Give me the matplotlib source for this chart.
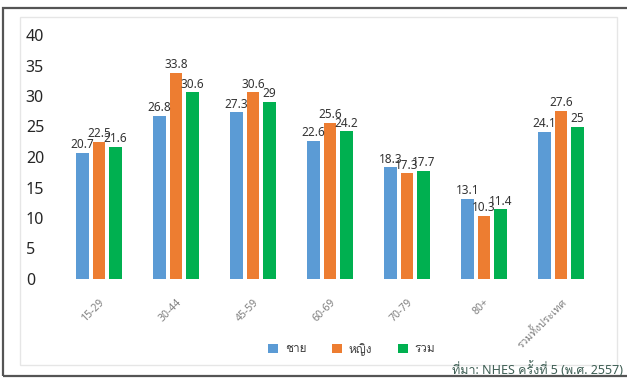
import matplotlib
matplotlib.use("Agg")
import matplotlib.pyplot as plt
from matplotlib import font_manager, ft2font
from matplotlib.patches import Rectangle
import numpy as np

# Data
groups = ['15-29', '30-44', '45-59', '60-69', '70-79', '80+', 'รวมทั้งประเทศ']
male = [20.7, 26.8, 27.3, 22.6, 18.3, 13.1, 24.1]
female = [22.5, 33.8, 30.6, 25.6, 17.3, 10.3, 27.6]
total = [21.6, 30.6, 29, 24.2, 17.7, 11.4, 25]
series_names = ['ชาย', 'หญิง', 'รวม']
yticks = [0, 5, 10, 15, 20, 25, 30, 35, 40]
source_text = 'ที่มา: NHES ครั้งที่ 5 (พ.ศ. 2557)'

colors = ['#5B9BD5', '#ED7D31', '#00B050']


def find_thai_family():
    """Return the name of an installed font that has Thai glyphs"""
    for f in font_manager.fontManager.ttflist:
        try:
            cmap = ft2font.FT2Font(f.fname).get_charmap()
        except Exception:
            continue
        if 0x0E17 in cmap and 0x0E21 in cmap:
            return f.name
    return None


thai = find_thai_family()
families = ['Noto Sans', 'DejaVu Sans']
if thai:
    families.append(thai)
plt.rcParams['font.family'] = families

fig = plt.figure(figsize=(6.27, 3.78), dpi=100)

# outer dark frame and inner light box
fig.patches.append(Rectangle((3 / 627, 1 - 376 / 378), 640 / 627, 368 / 378,
                             transform=fig.transFigure, fill=False,
                             edgecolor='#555555', linewidth=1.6))
fig.patches.append(Rectangle((20 / 627, 1 - 365 / 378), 597 / 627, 348 / 378,
                             transform=fig.transFigure, fill=False,
                             edgecolor='#e6e6e6', linewidth=1.0))

ax = fig.add_axes([60.5 / 627, 99 / 378, 539 / 627, 244 / 378])

x = np.arange(len(groups))
width = 0.16
offset = 0.215
for i, (vals, c, name) in enumerate(zip([male, female, total], colors, series_names)):
    pos = x + (i - 1) * offset
    ax.bar(pos, vals, width=width, color=c, label=name)
    for p, v in zip(pos, vals):
        ax.text(p, v + 0.3, f'{v:g}', ha='center', va='bottom',
                fontsize=8.5, color='#333333')

ax.set_xlim(-0.5, len(groups) - 0.5)
ax.set_ylim(0, 40)
ax.set_yticks(yticks)
ax.set_xticks(x)
ax.set_xticklabels(groups, rotation=45, ha='right', rotation_mode='anchor',
                   fontsize=7.5, color='#808080')
ax.tick_params(axis='x', length=0, pad=13)
ax.tick_params(axis='y', length=0, pad=25, labelsize=11.5, labelcolor='#262626')
for lab in ax.get_yticklabels():
    lab.set_horizontalalignment('left')
for s in ax.spines.values():
    s.set_visible(False)

fig.legend(loc='center', bbox_to_anchor=(352 / 627, 1 - 349 / 378), ncol=3,
           frameon=False, fontsize=8.5, handlelength=0.8, handleheight=0.8,
           columnspacing=2.2, handletextpad=0.6, labelcolor='#404040')

fig.text(452 / 627, 1 - 369 / 378, source_text, fontsize=9, color='#3f5f55',
         ha='left', va='center')

fig.savefig('out.png', dpi=100)
